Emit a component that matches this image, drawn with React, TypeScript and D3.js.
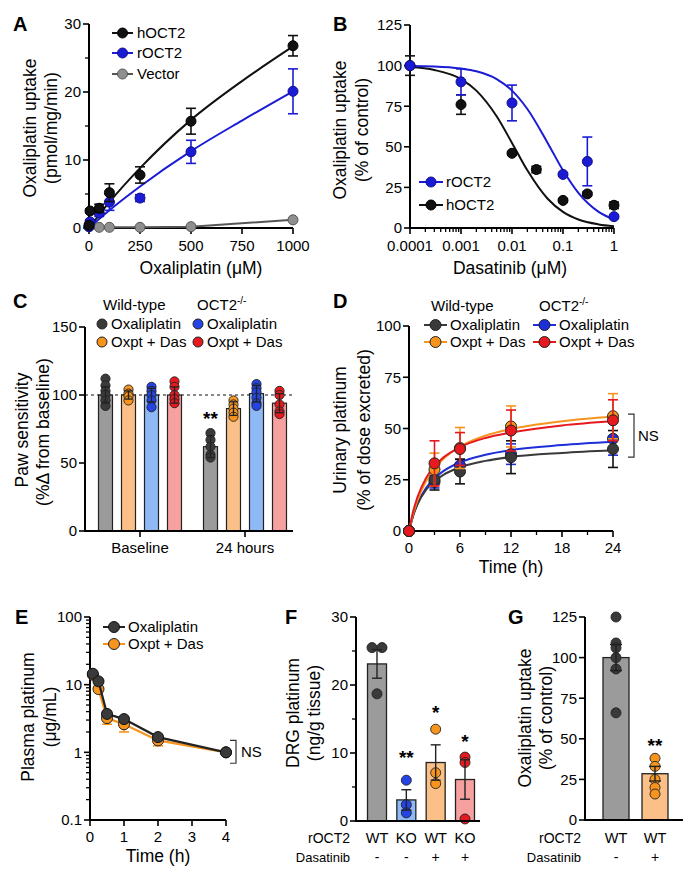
import * as d3 from "d3";

const FONT = "'Liberation Sans', Arial, Helvetica, sans-serif";

const BLACK = "#111111";
const DARK = "#3a3a3a";
const GRAY_BAR = "#9b9b9b";
const ORANGE = "#f7941d";
const ORANGE_BAR = "#fbc088";
const BLUE = "#2444e6";
const BLUE_BAR = "#8fb9f4";
const RED = "#e5191e";
const RED_BAR = "#f6a0a0";
const PURE_BLUE = "#1b1bd6";
const VEC_GRAY = "#8f8f8f";

// ---- panel A: uptake vs oxaliplatin concentration
const concA = [0, 5, 50, 100, 250, 500, 1000];
const hOCT2A = [0.4, 2.5, 2.9, 5.2, 7.8, 15.7, 26.8];
const hOCT2AErr = [0.2, 0.3, 0.6, 1.3, 1.2, 1.9, 1.5];
const rOCT2A = [0.2, 0.9, 2.2, 3.8, 4.4, 11.2, 20.1];
const rOCT2AErr = [0.1, 0.3, 0.5, 1.2, 0.5, 1.7, 3.3];
const concVector = [0, 50, 100, 250, 500, 1000];
const vectorA = [0.2, 0.1, 0.1, 0.1, 0.2, 1.2];
const fitConcA = [0, 100, 250, 500, 750, 1000];
const hOCT2AFit = [0, 3.8, 8.8, 15.9, 21.6, 26.7];
const rOCT2AFit = [0, 2.6, 6.1, 11.3, 15.8, 20.1];

// ---- panel B: dasatinib inhibition
const dasConcH = [0.0001, 0.001, 0.01, 0.03, 0.1, 0.3, 1];
const hOCT2B = [100, 76, 46, 36, 17, 21, 14];
const hOCT2BErr = [6, 6, 1, 2, 1, 1, 2];
const dasConcR = [0.0001, 0.001, 0.01, 0.1, 0.3, 1];
const rOCT2B = [100, 90, 77, 33, 41, 7];
const rOCT2BErr = [1, 8, 11, 1, 15, 1];
const fitConcB = [0.0001, 0.0003, 0.001, 0.002, 0.005, 0.01, 0.02, 0.05, 0.1, 0.2, 0.5, 1];
const hOCT2BFit = [99.1, 97.3, 91.7, 84.6, 68.8, 52.4, 35.5, 18.0, 9.9, 5.2, 2.2, 1.1];
const rOCT2BFit = [99.8, 99.5, 98.2, 96.5, 91.7, 84.6, 73.3, 52.4, 35.5, 21.6, 9.9, 5.2];

// ---- panel C: paw sensitivity (series x timepoint)
const pawGroups = ["Baseline", "24 hours"];
const pawMeans = [[100, 62], [100, 90], [100, 101], [100, 94]];
const pawSD = [[6, 8], [3, 5], [5, 6], [6, 7]];
const pawDots = [
  [[112, 107, 103, 100, 96, 92], [72, 67, 62, 56, 54]],
  [[104, 101, 99, 96], [96, 93, 90, 87, 84]],
  [[106, 103, 100, 96, 91], [108, 105, 102, 98, 94, 92]],
  [[110, 106, 100, 97, 94], [103, 100, 93, 88, 86]],
];
const pawStar = 86.8;

// ---- panel D: urinary platinum
const timeD = [0, 3, 6, 12, 24];
const urWTOx = [0, 25, 29, 36, 40];
const urWTOxErr = [0, 5, 6, 8, 9];
const urWTDas = [0, 30, 40.5, 51, 56];
const urWTDasErr = [0, 8, 10, 10, 11];
const urKOOx = [0, 24, 32, 37.5, 45];
const urKOOxErr = [0, 3, 3, 5, 8];
const urKODas = [0, 33, 40, 49, 54];
const urKODasErr = [0, 11, 8, 10, 10];
const fitTimeD = [0, 0.5, 1, 2, 3, 4, 6, 9, 12, 18, 24];
const urWTOxFit = [0, 7.7, 13.0, 20.0, 24.3, 27.3, 31.1, 34.2, 36.1, 38.1, 39.4];
const urWTDasFit = [0, 8.5, 15.0, 24.2, 30.5, 35.0, 41.1, 46.5, 49.7, 53.5, 55.8];
const urKOOxFit = [0, 7.7, 13.3, 20.9, 25.7, 29.1, 33.5, 37.2, 39.5, 41.9, 43.5];
const urKODasFit = [0, 9.7, 16.6, 25.8, 31.6, 35.7, 40.9, 45.4, 48.0, 51.5, 53.5];
const nsRangeD = [36, 57];

// ---- panel E: plasma platinum
const timeE = [0.083, 0.25, 0.5, 1, 2, 4];
const plasmaOx = [14.5, 11.2, 3.7, 3.1, 1.68, 1.0];
const plasmaOxErr = [0.6, 0.5, 0.2, 0.2, 0.08, 0.05];
const plasmaDas = [14, 8.6, 3.2, 2.6, 1.5, 1.0];
const plasmaDasLow = [0.5, 0.5, 0.6, 0.6, 0.25, 0.05];
const nsRangeE = [0.69, 1.5];

// ---- panel F: DRG platinum
const drgGenotype = ["WT", "KO", "WT", "KO"];
const drgDasatinib = ["-", "-", "+", "+"];
const drgMeans = [23.1, 3.1, 8.6, 6.1];
const drgSEM = [2.1, 1.5, 2.6, 2.9];
const drgDots = [[25.5, 25.5, 18.7], [6.0, 2.4, 1.2], [13.5, 7.1, 5.5], [9.4, 8.6, 0.3]];
const drgStars = ["", "**", "*", "*"];
const drgStarY = [0, 10.1, 16.8, 12.4];

// ---- panel G: uptake in cells
const gGenotype = ["WT", "WT"];
const gDasatinib = ["-", "+"];
const gMeans = [100, 28.5];
const gSEM = [8, 4.5];
const gDots = [[125, 109, 106, 100, 93, 66], [38, 33, 25, 20, 16]];
const gStarY = 49.3;

const zip = (xs: number[], ys: number[]) => xs.map((v, i) => [v, ys[i]] as [number, number]);

function YAxis({ scale, x, ticks, minor = [], fmt = (t: number) => String(t) }: any) {
  const [y0, y1] = scale.range();
  return (
    <g>
      <line x1={x} x2={x} y1={y0 + 1} y2={y1} stroke="#000" strokeWidth={2} />
      {ticks.map((t: number) => (
        <g key={"t" + t}>
          <line x1={x - 6} x2={x} y1={scale(t)} y2={scale(t)} stroke="#000" strokeWidth={1.6} />
          <text x={x - 8} y={scale(t)} dy="0.36em" textAnchor="end" fontSize={15}>{fmt(t)}</text>
        </g>
      ))}
      {minor.map((t: number) => (
        <line key={"m" + t} x1={x - 4} x2={x} y1={scale(t)} y2={scale(t)} stroke="#000" strokeWidth={1.3} />
      ))}
    </g>
  );
}

function XAxis({ scale, y, ticks, minor = [], fmt = (t: number) => String(t), x0, x1, labelY }: any) {
  const r = scale.range();
  const a = x0 ?? r[0];
  const b = x1 ?? r[r.length - 1];
  return (
    <g>
      <line x1={a - 1} x2={b} y1={y} y2={y} stroke="#000" strokeWidth={2} />
      {ticks.map((t: number) => (
        <g key={"t" + t}>
          <line x1={scale(t)} x2={scale(t)} y1={y} y2={y + 6} stroke="#000" strokeWidth={1.6} />
          <text x={scale(t)} y={labelY ?? y + 21} textAnchor="middle" fontSize={15}>{fmt(t)}</text>
        </g>
      ))}
      {minor.map((t: number) => (
        <line key={"m" + t} x1={scale(t)} x2={scale(t)} y1={y} y2={y + 4} stroke="#000" strokeWidth={1.3} />
      ))}
    </g>
  );
}

function YTitle({ x, cy, children }: any) {
  return (
    <text transform={`translate(${x},${cy}) rotate(-90)`} dy="0.36em" textAnchor="middle" fontSize={17.5}>
      {children}
    </text>
  );
}

function PanelLabel({ x, y, t }: any) {
  return <text x={x} y={y} fontSize={20} fontWeight="bold">{t}</text>;
}

function ErrBar({ x, yLo, yHi, color, w = 5, sw = 1.6 }: any) {
  return (
    <g stroke={color} strokeWidth={sw}>
      <line x1={x} x2={x} y1={yLo} y2={yHi} />
      <line x1={x - w} x2={x + w} y1={yLo} y2={yLo} />
      <line x1={x - w} x2={x + w} y1={yHi} y2={yHi} />
    </g>
  );
}

function LegendRow({ x1, x2, y, color, fill, stroke, label, tx, r = 5.5 }: any) {
  return (
    <g>
      {x2 > x1 && <line x1={x1} x2={x2} y1={y} y2={y} stroke={color} strokeWidth={2} />}
      <circle cx={(x1 + x2) / 2} cy={y} r={r} fill={fill} stroke={stroke} strokeWidth={1} />
      <text x={tx} y={y} dy="0.36em" fontSize={15}>{label}</text>
    </g>
  );
}

function PanelA() {
  const x = d3.scaleLinear([0, 1000], [89, 293]);
  const y = d3.scaleLinear([0, 30], [228, 24]);
  const smooth = d3.line<[number, number]>().x(d => x(d[0])).y(d => y(d[1])).curve(d3.curveMonotoneX);
  const straight = d3.line<[number, number]>().x(d => x(d[0])).y(d => y(d[1]));
  const series = [
    { xs: concA, ys: rOCT2A, es: rOCT2AErr, c: PURE_BLUE, f: PURE_BLUE, s: "#10108a" },
    { xs: concA, ys: hOCT2A, es: hOCT2AErr, c: BLACK, f: BLACK, s: "#000" },
  ];
  return (
    <g>
      <PanelLabel x={13} y={31} t="A" />
      <YTitle x={30} cy={128}>Oxaliplatin uptake</YTitle>
      <YTitle x={51} cy={128}>(pmol/mg/min)</YTitle>
      <YAxis scale={y} x={89} ticks={[0, 10, 20, 30]} minor={[5, 15, 25]} />
      <XAxis scale={x} y={228} ticks={[0, 250, 500, 750, 1000]} labelY={251} />
      <text x={201} y={274} textAnchor="middle" fontSize={17.5}>Oxaliplatin (μM)</text>
      <path d={straight(zip(concVector, vectorA)) ?? ""} fill="none" stroke="#555" strokeWidth={2} />
      {concVector.map((c, i) => (
        <circle key={i} cx={x(c)} cy={y(vectorA[i])} r={5} fill={VEC_GRAY} stroke="#555" strokeWidth={1} />
      ))}
      <path d={smooth(zip(fitConcA, rOCT2AFit)) ?? ""} fill="none" stroke={PURE_BLUE} strokeWidth={2} />
      <path d={smooth(zip(fitConcA, hOCT2AFit)) ?? ""} fill="none" stroke={BLACK} strokeWidth={2} />
      {series.map((s, k) => (
        <g key={k}>
          {s.xs.map((c, i) => (
            <g key={i}>
              <ErrBar x={x(c)} yLo={y(s.ys[i] - s.es[i])} yHi={y(s.ys[i] + s.es[i])} color={s.c} />
              <circle cx={x(c)} cy={y(s.ys[i])} r={5} fill={s.f} stroke={s.s} strokeWidth={1} />
            </g>
          ))}
        </g>
      ))}
      <LegendRow x1={112} x2={133} y={33} color={BLACK} fill={BLACK} stroke="#000" label="hOCT2" tx={137} r={5} />
      <LegendRow x1={112} x2={133} y={53} color={PURE_BLUE} fill={PURE_BLUE} stroke="#10108a" label="rOCT2" tx={137} r={5} />
      <LegendRow x1={112} x2={133} y={74} color="#555" fill={VEC_GRAY} stroke="#555" label="Vector" tx={137} r={5} />
    </g>
  );
}

function PanelB() {
  const x = d3.scaleLog([0.0001, 1], [410, 614]);
  const y = d3.scaleLinear([0, 125], [228, 25]);
  const smooth = d3.line<[number, number]>().x(d => x(d[0])).y(d => y(d[1])).curve(d3.curveMonotoneX);
  const minor: number[] = [];
  [0.0001, 0.001, 0.01, 0.1].forEach(dec => {
    for (let k = 2; k <= 9; k++) minor.push(dec * k);
  });
  const series = [
    { xs: dasConcH, ys: hOCT2B, es: hOCT2BErr, c: BLACK, s: "#000" },
    { xs: dasConcR, ys: rOCT2B, es: rOCT2BErr, c: PURE_BLUE, s: "#10108a" },
  ];
  return (
    <g>
      <PanelLabel x={333} y={31} t="B" />
      <YTitle x={340} cy={130}>Oxaliplatin uptake</YTitle>
      <YTitle x={362} cy={130}>(% of control)</YTitle>
      <YAxis scale={y} x={410} ticks={[0, 25, 50, 75, 100, 125]} />
      <XAxis scale={x} y={228} ticks={[0.0001, 0.001, 0.01, 0.1, 1]} minor={minor} labelY={251}
        fmt={(t: number) => String(+t.toFixed(4))} />
      <text x={510} y={274} textAnchor="middle" fontSize={17.5}>Dasatinib (μM)</text>
      <path d={smooth(zip(fitConcB, hOCT2BFit)) ?? ""} fill="none" stroke={BLACK} strokeWidth={2} />
      <path d={smooth(zip(fitConcB, rOCT2BFit)) ?? ""} fill="none" stroke={PURE_BLUE} strokeWidth={2} />
      {series.map((s, k) => (
        <g key={k}>
          {s.xs.map((c, i) => (
            <g key={i}>
              <ErrBar x={x(c)} yLo={y(s.ys[i] - s.es[i])} yHi={y(s.ys[i] + s.es[i])} color={s.c} />
              <circle cx={x(c)} cy={y(s.ys[i])} r={5} fill={s.c} stroke={s.s} strokeWidth={1} />
            </g>
          ))}
        </g>
      ))}
      <LegendRow x1={419} x2={443} y={182} color={PURE_BLUE} fill={PURE_BLUE} stroke="#10108a" label="rOCT2" tx={446} r={5} />
      <LegendRow x1={419} x2={443} y={205} color={BLACK} fill={BLACK} stroke="#000" label="hOCT2" tx={446} r={5} />
    </g>
  );
}

const seriesColors = [DARK, ORANGE, BLUE, RED];
const barColors = [GRAY_BAR, ORANGE_BAR, BLUE_BAR, RED_BAR];
// panel F order: WT, KO, WT + Das, KO + Das
const drgDotColors = [DARK, BLUE, ORANGE, RED];
const drgBarColors = [GRAY_BAR, BLUE_BAR, ORANGE_BAR, RED_BAR];

function PanelC() {
  const y = d3.scaleLinear([0, 150], [531, 327]);
  const gx = d3.scalePoint(pawGroups, [140, 245]);
  const sub = d3.scaleBand(d3.range(4), [-46, 46]);
  const bw = 14;
  return (
    <g>
      <PanelLabel x={13} y={308} t="C" />
      <YTitle x={22} cy={430}>Paw sensitivity</YTitle>
      <YTitle x={43} cy={432}>(%Δ from baseline)</YTitle>
      <line x1={85} x2={293} y1={y(100)} y2={y(100)} stroke="#111" strokeWidth={1.2} strokeDasharray="3,3" />
      {pawMeans.map((means, s) =>
        pawGroups.map((g, gi) => {
          const cx = (gx(g) ?? 0) + (sub(s) ?? 0) + sub.bandwidth() / 2;
          return (
            <g key={s + "-" + gi}>
              <rect x={cx - bw / 2} y={y(means[gi])} width={bw} height={y(0) - y(means[gi])}
                fill={barColors[s]} stroke="#222" strokeWidth={1.2} />
              {pawDots[s][gi].map((v, j) => (
                <circle key={j} cx={cx} cy={y(v)} r={4.6} fill={seriesColors[s]} stroke="#222" strokeWidth={0.9} />
              ))}
              <ErrBar x={cx} yLo={y(means[gi] - pawSD[s][gi])} yHi={y(means[gi] + pawSD[s][gi])} color="#222" w={4} sw={1.3} />
            </g>
          );
        })
      )}
      <YAxis scale={y} x={85} ticks={[0, 50, 100, 150]} />
      <line x1={84} x2={293} y1={531} y2={531} stroke="#000" strokeWidth={2} />
      {pawGroups.map(g => (
        <g key={g}>
          <line x1={gx(g)} x2={gx(g)} y1={531} y2={537} stroke="#000" strokeWidth={1.6} />
          <text x={gx(g)} y={553} textAnchor="middle" fontSize={15}>{g}</text>
        </g>
      ))}
      <text x={(gx("24 hours") ?? 0) + (sub(0) ?? 0) + sub.bandwidth() / 2} y={y(pawStar)} dy="0.62em"
        textAnchor="middle" fontSize={19} fontWeight="bold">**</text>
      <text x={103} y={310} fontSize={15}>Wild-type</text>
      <text x={197} y={310} fontSize={15}>OCT2<tspan dy={-6} fontSize={10}>-/-</tspan></text>
      <LegendRow x1={102} x2={102} y={324} fill={DARK} stroke="#222" label="Oxaliplatin" tx={111} r={5} />
      <LegendRow x1={102} x2={102} y={342} fill={ORANGE} stroke="#222" label="Oxpt + Das" tx={111} r={5} />
      <LegendRow x1={198} x2={198} y={324} fill={BLUE} stroke="#222" label="Oxaliplatin" tx={207} r={5} />
      <LegendRow x1={198} x2={198} y={342} fill={RED} stroke="#222" label="Oxpt + Das" tx={207} r={5} />
    </g>
  );
}

function PanelD() {
  const x = d3.scaleLinear([0, 24], [409, 613]);
  const y = d3.scaleLinear([0, 100], [531, 326]);
  const smooth = d3.line<[number, number]>().x(d => x(d[0])).y(d => y(d[1])).curve(d3.curveMonotoneX);
  const series = [
    { m: urKOOx, e: urKOOxErr, fit: urKOOxFit, c: "#1d2fd9" },
    { m: urWTOx, e: urWTOxErr, fit: urWTOxFit, c: DARK },
    { m: urWTDas, e: urWTDasErr, fit: urWTDasFit, c: ORANGE },
    { m: urKODas, e: urKODasErr, fit: urKODasFit, c: RED },
  ];
  return (
    <g>
      <PanelLabel x={333} y={308} t="D" />
      <YTitle x={340} cy={430}>Urinary platinum</YTitle>
      <YTitle x={364} cy={430}>(% of dose excreted)</YTitle>
      <YAxis scale={y} x={409} ticks={[0, 25, 50, 75, 100]} />
      <XAxis scale={x} y={531} ticks={[0, 6, 12, 18, 24]} minor={[3, 9, 15, 21]} labelY={553} />
      <text x={511} y={573} textAnchor="middle" fontSize={17.5}>Time (h)</text>
      {series.map((s, k) => (
        <path key={k} d={smooth(zip(fitTimeD, s.fit)) ?? ""} fill="none" stroke={s.c} strokeWidth={2} />
      ))}
      {series.map((s, k) => (
        <g key={k}>
          {timeD.map((t, i) => (
            <g key={i}>
              {s.e[i] > 0 && <ErrBar x={x(t)} yLo={y(s.m[i] - s.e[i])} yHi={y(s.m[i] + s.e[i])} color={s.c === DARK ? "#111" : s.c} />}
              <circle cx={x(t)} cy={y(s.m[i])} r={5.5} fill={s.c} stroke="#222" strokeWidth={1} />
            </g>
          ))}
        </g>
      ))}
      <g stroke="#333" strokeWidth={1.2} fill="none">
        <path d={`M${628},${y(nsRangeD[1])}H${634}V${y(nsRangeD[0])}H${628}`} />
      </g>
      <text x={638} y={y((nsRangeD[0] + nsRangeD[1]) / 2)} dy="0.36em" fontSize={15}>NS</text>
      <text x={431} y={311} fontSize={15}>Wild-type</text>
      <text x={539} y={311} fontSize={15}>OCT2<tspan dy={-6} fontSize={10}>-/-</tspan></text>
      <LegendRow x1={424} x2={447} y={325} color={DARK} fill={DARK} stroke="#222" label="Oxaliplatin" tx={450} r={5.5} />
      <LegendRow x1={424} x2={447} y={342} color={ORANGE} fill={ORANGE} stroke="#222" label="Oxpt + Das" tx={450} r={5.5} />
      <LegendRow x1={533} x2={556} y={325} color="#1d2fd9" fill="#1d2fd9" stroke="#222" label="Oxaliplatin" tx={559} r={5.5} />
      <LegendRow x1={533} x2={556} y={342} color={RED} fill={RED} stroke="#222" label="Oxpt + Das" tx={559} r={5.5} />
    </g>
  );
}

function PanelE() {
  const x = d3.scaleLinear([0, 4], [90, 226]);
  const y = d3.scaleLog([0.1, 100], [820, 617]);
  const line = d3.line<[number, number]>().x(d => x(d[0])).y(d => y(d[1]));
  const minor: number[] = [];
  [0.1, 1, 10].forEach(dec => {
    for (let k = 2; k <= 9; k++) minor.push(dec * k);
  });
  return (
    <g>
      <PanelLabel x={15} y={624} t="E" />
      <YTitle x={28} cy={717}>Plasma platinum</YTitle>
      <YTitle x={50} cy={717}>(μg/mL)</YTitle>
      <YAxis scale={y} x={90} ticks={[0.1, 1, 10, 100]} minor={minor} />
      <XAxis scale={x} y={820} ticks={[0, 1, 2, 3, 4]} labelY={842} />
      <text x={158} y={862} textAnchor="middle" fontSize={17.5}>Time (h)</text>
      <path d={line(zip(timeE, plasmaDas)) ?? ""} fill="none" stroke={ORANGE} strokeWidth={2.2} />
      {timeE.map((t, i) => (
        <g key={i}>
          <ErrBar x={x(t)} yLo={y(plasmaDas[i] - plasmaDasLow[i])} yHi={y(plasmaDas[i])} color={ORANGE} />
          <circle cx={x(t)} cy={y(plasmaDas[i])} r={5.5} fill={ORANGE} stroke="#222" strokeWidth={1} />
        </g>
      ))}
      <path d={line(zip(timeE, plasmaOx)) ?? ""} fill="none" stroke="#222" strokeWidth={2.2} />
      {timeE.map((t, i) => (
        <g key={i}>
          <ErrBar x={x(t)} yLo={y(plasmaOx[i] - plasmaOxErr[i])} yHi={y(plasmaOx[i] + plasmaOxErr[i])} color="#111" />
          <circle cx={x(t)} cy={y(plasmaOx[i])} r={5.5} fill={DARK} stroke="#111" strokeWidth={1} />
        </g>
      ))}
      <path d={`M${230},${y(nsRangeE[1])}H${236}V${y(nsRangeE[0])}H${230}`} fill="none" stroke="#333" strokeWidth={1.2} />
      <text x={241} y={y(Math.sqrt(nsRangeE[0] * nsRangeE[1]))} dy="0.36em" fontSize={15}>NS</text>
      <LegendRow x1={103} x2={125} y={627} color="#222" fill={DARK} stroke="#111" label="Oxaliplatin" tx={128} r={5.5} />
      <LegendRow x1={103} x2={125} y={644} color={ORANGE} fill={ORANGE} stroke="#222" label="Oxpt + Das" tx={128} r={5.5} />
    </g>
  );
}

function dodge(vals: number[]) {
  // spread identical values side by side
  return vals.map((v, i) => {
    const same = vals.filter(w => w === v);
    const idx = vals.slice(0, i).filter(w => w === v).length;
    return (idx - (same.length - 1) / 2) * 10;
  });
}

function PanelF() {
  const y = d3.scaleLinear([0, 30], [821, 617]);
  const x = d3.scalePoint(d3.range(4), [377, 465]);
  const bw = 19;
  return (
    <g>
      <PanelLabel x={285} y={624} t="F" />
      <YTitle x={293} cy={713}>DRG platinum</YTitle>
      <YTitle x={314} cy={713}>(ng/g tissue)</YTitle>
      {drgMeans.map((m, i) => {
        const cx = x(i) ?? 0;
        const off = dodge(drgDots[i]);
        return (
          <g key={i}>
            <rect x={cx - bw / 2} y={y(m)} width={bw} height={y(0) - y(m)} fill={drgBarColors[i]} stroke="#222" strokeWidth={1.3} />
            {drgDots[i].map((v, j) => (
              <circle key={j} cx={cx + off[j]} cy={y(v)} r={5} fill={drgDotColors[i]} stroke="#222" strokeWidth={0.9} />
            ))}
            <ErrBar x={cx} yLo={y(m - drgSEM[i])} yHi={y(m + drgSEM[i])} color="#222" w={5} sw={1.4} />
            {drgStars[i] && (
              <text x={cx} y={y(drgStarY[i])} dy="0.62em" textAnchor="middle" fontSize={19} fontWeight="bold">{drgStars[i]}</text>
            )}
            <text x={cx} y={843} textAnchor="middle" fontSize={14.5}>{drgGenotype[i]}</text>
            <text x={cx} y={862} textAnchor="middle" fontSize={14}>{drgDasatinib[i]}</text>
          </g>
        );
      })}
      <YAxis scale={y} x={356} ticks={[0, 10, 20, 30]} minor={[5, 15, 25]} />
      <line x1={355} x2={480} y1={821} y2={821} stroke="#000" strokeWidth={2} />
      <text x={350} y={843} textAnchor="end" fontSize={14}>rOCT2</text>
      <text x={350} y={862} textAnchor="end" fontSize={13}>Dasatinib</text>
    </g>
  );
}

function PanelG() {
  const y = d3.scaleLinear([0, 125], [820, 617]);
  const x = d3.scalePoint(d3.range(2), [616, 655]);
  const bw = 26;
  return (
    <g>
      <PanelLabel x={508} y={624} t="G" />
      <YTitle x={525} cy={718}>Oxaliplatin uptake</YTitle>
      <YTitle x={546} cy={718}>(% of control)</YTitle>
      {gMeans.map((m, i) => {
        const cx = x(i) ?? 0;
        return (
          <g key={i}>
            <rect x={cx - bw / 2} y={y(m)} width={bw} height={y(0) - y(m)} fill={i === 0 ? GRAY_BAR : ORANGE_BAR} stroke="#222" strokeWidth={1.3} />
            {gDots[i].map((v, j) => (
              <circle key={j} cx={cx} cy={y(v)} r={5} fill={i === 0 ? DARK : ORANGE} stroke="#222" strokeWidth={0.9} />
            ))}
            <ErrBar x={cx} yLo={y(m - gSEM[i])} yHi={y(m + gSEM[i])} color="#222" w={6} sw={1.4} />
            <text x={cx} y={843} textAnchor="middle" fontSize={14.5}>{gGenotype[i]}</text>
            <text x={cx} y={862} textAnchor="middle" fontSize={14}>{gDasatinib[i]}</text>
          </g>
        );
      })}
      <text x={x(1)} y={y(gStarY)} dy="0.62em" textAnchor="middle" fontSize={19} fontWeight="bold">**</text>
      <YAxis scale={y} x={585} ticks={[0, 25, 50, 75, 100, 125]} />
      <line x1={584} x2={683} y1={820} y2={820} stroke="#000" strokeWidth={2} />
      <text x={581} y={843} textAnchor="end" fontSize={14}>rOCT2</text>
      <text x={581} y={862} textAnchor="end" fontSize={13}>Dasatinib</text>
    </g>
  );
}

export default function App() {
  return (
    <svg width={700} height={878} viewBox="0 0 700 878" fontFamily={FONT}
      style={{ position: "absolute", left: 0, top: 0, background: "#fff" }}>
      <rect width={700} height={878} fill="#fff" />
      <PanelA />
      <PanelB />
      <PanelC />
      <PanelD />
      <PanelE />
      <PanelF />
      <PanelG />
    </svg>
  );
}
